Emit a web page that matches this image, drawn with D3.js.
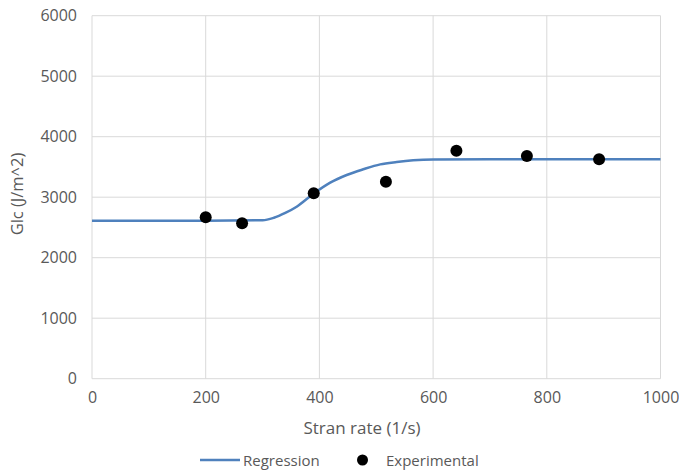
<!DOCTYPE html>
<html>
<head>
<meta charset="utf-8">
<script src="https://cdn.jsdelivr.net/npm/d3@7"></script>
<style>
  html, body { margin: 0; padding: 0; background: #fff; }
  svg { display: block; }
  text { font-family: "Open Sans", "Noto Sans", sans-serif; fill: #595959; }
</style>
</head>
<body>
<svg id="chart" width="679" height="471"></svg>
<script>
// Regression curve: strain rate (1/s) and fitted Glc (J/m^2)
const regressionRate = [0, 100, 200, 300, 320, 340, 360, 389, 419, 448, 477, 507, 536, 565, 600, 700, 800, 900, 1000];
const regressionGlc  = [2612, 2612, 2612, 2618, 2660, 2740, 2843, 3053, 3240, 3367, 3461, 3543, 3582, 3610, 3624, 3627, 3627, 3627, 3627];

// Experimental measurements
const expRate = [200, 264, 390, 517, 641, 765, 892];
const expGlc  = [2668, 2569, 3064, 3256, 3769, 3681, 3626];

// Axis ticks
const xTicks = [0, 200, 400, 600, 800, 1000];
const yTicks = [0, 1000, 2000, 3000, 4000, 5000, 6000];

const svg = d3.select("#chart");
const plotLeft = 92, plotRight = 660.5, plotTop = 15.7, plotBottom = 378.7;

const x = d3.scaleLinear().domain([0, 1000]).range([plotLeft, plotRight]);
const y = d3.scaleLinear().domain([0, 6000]).range([plotBottom, plotTop]);

// Gridlines
const grid = svg.append("g").attr("stroke", "#d9d9d9").attr("stroke-width", 1);
grid.selectAll("line.h").data(yTicks).join("line")
  .attr("class", "h")
  .attr("x1", plotLeft).attr("x2", plotRight)
  .attr("y1", d => y(d)).attr("y2", d => y(d));
grid.selectAll("line.v").data(xTicks).join("line")
  .attr("class", "v")
  .attr("y1", plotTop).attr("y2", plotBottom)
  .attr("x1", d => x(d)).attr("x2", d => x(d));

// Tick labels (plain integers, no thousands separator)
const fmt = d3.format("d");
const yAxis = d3.axisLeft(y).tickValues(yTicks).tickFormat(fmt).tickSize(0).tickPadding(15);
svg.append("g").attr("transform", `translate(${plotLeft},0)`).call(yAxis)
  .call(g => g.select(".domain").remove())
  .selectAll("text").style("font-size", "16px").attr("fill", "#595959")
  .style("font-family", "'Open Sans', sans-serif");

const xAxis = d3.axisBottom(x).tickValues(xTicks).tickFormat(fmt).tickSize(0).tickPadding(13);
svg.append("g").attr("transform", `translate(0,${plotBottom})`).call(xAxis)
  .call(g => g.select(".domain").remove())
  .selectAll("text").style("font-size", "16px").attr("fill", "#595959")
  .style("font-family", "'Open Sans', sans-serif");

// Axis titles
svg.append("text")
  .attr("x", 362).attr("y", 434)
  .attr("text-anchor", "middle").style("font-size", "17px")
  .text("Stran rate (1/s)");
svg.append("text")
  .attr("transform", `translate(23,194) rotate(-90)`)
  .attr("text-anchor", "middle").style("font-size", "16.5px")
  .text("Glc (J/m^2)");

// Regression line
const regression = regressionRate.map((r, i) => [r, regressionGlc[i]]);
svg.append("path")
  .datum(regression)
  .attr("fill", "none")
  .attr("stroke", "#4f81bd")
  .attr("stroke-width", 2.5)
  .attr("d", d3.line().x(d => x(d[0])).y(d => y(d[1])).curve(d3.curveMonotoneX));

// Experimental points
svg.append("g").selectAll("circle")
  .data(expRate.map((r, i) => [r, expGlc[i]]))
  .join("circle")
  .attr("cx", d => x(d[0])).attr("cy", d => y(d[1]))
  .attr("r", 6).attr("fill", "#000");

// Legend
const legend = svg.append("g").attr("transform", "translate(0,460)");
legend.append("line").attr("x1", 200).attr("x2", 240).attr("y1", 0).attr("y2", 0)
  .attr("stroke", "#4f81bd").attr("stroke-width", 2.5);
legend.append("text").attr("x", 243).attr("y", 5.5).style("font-size", "15px").text("Regression");
legend.append("circle").attr("cx", 362.5).attr("cy", 0).attr("r", 5.5).attr("fill", "#000");
legend.append("text").attr("x", 386).attr("y", 5.5).style("font-size", "15px").text("Experimental");
</script>
</body>
</html>
